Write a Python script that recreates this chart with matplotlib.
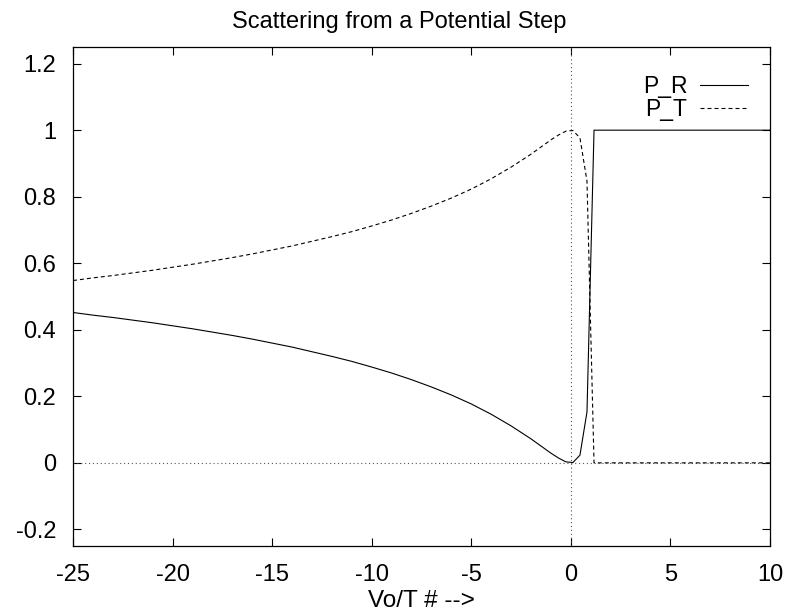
import numpy as np
import matplotlib
matplotlib.use('Agg')
import matplotlib.pyplot as plt

plt.rcParams['font.family'] = ['Liberation Sans', 'DejaVu Sans']

# values (x = Vo/T)
x_vals = [-25, -24, -23, -22, -21, -20, -19, -18, -17, -16, -15, -14, -13,
          -12, -11, -10, -9, -8, -7, -6, -5, -4, -3, -2, -1,
          -0.606, -0.253, 0.101, 0.455, 0.808, 1.162, 10]
p_r = [0.452, 0.444, 0.437, 0.429, 0.421, 0.412, 0.403, 0.393, 0.383, 0.372,
       0.360, 0.348, 0.334, 0.320, 0.305, 0.288, 0.270, 0.250, 0.228, 0.204,
       0.177, 0.146, 0.111, 0.072, 0.029,
       0.014, 0.003, 0.001, 0.023, 0.153, 1.0, 1.0]
p_t = [0.548, 0.556, 0.563, 0.571, 0.579, 0.588, 0.597, 0.607, 0.617, 0.628,
       0.640, 0.652, 0.666, 0.680, 0.695, 0.712, 0.730, 0.750, 0.772, 0.796,
       0.823, 0.854, 0.889, 0.928, 0.971,
       0.986, 0.997, 0.999, 0.977, 0.847, 0.0, 0.0]

x_ticks = [-25, -20, -15, -10, -5, 0, 5, 10]
y_ticks = [-0.2, 0, 0.2, 0.4, 0.6, 0.8, 1, 1.2]
y_labels = ['-0.2', '0', '0.2', '0.4', '0.6', '0.8', '1', '1.2']

fig = plt.figure(figsize=(7.91, 6.16), dpi=100)
ax = fig.add_axes([0.0923, 0.1136, 0.8812, 0.8101])

ax.axhline(0, color='#555555', lw=0.8, ls=(0, (1, 2.5)))
ax.axvline(0, color='#555555', lw=0.8, ls=(0, (1, 2.5)))

ax.plot(x_vals, p_r, color='black', lw=0.8, label='P_R')
ax.plot(x_vals, p_t, color='black', lw=0.8, ls=(0, (3.6, 2.7)), label='P_T')

ax.set_xlim(-25, 10)
ax.set_ylim(-0.25, 1.25)
ax.set_xticks(x_ticks)
ax.set_xticklabels([str(t) for t in x_ticks])
ax.set_yticks(y_ticks)
ax.set_yticklabels(y_labels)
ax.tick_params(direction='in', length=6, width=0.8, labelsize=17,
               top=True, right=True)
ax.tick_params(axis='x', pad=13)
ax.tick_params(axis='y', pad=12)
for sp in ax.spines.values():
    sp.set_linewidth(0.9)

# gnuplot centres the title on the whole canvas
fig.text(0.505, 0.955, 'Scattering from a Potential Step', fontsize=17,
         ha='center', va='baseline')
ax.set_xlabel('Vo/T # -->', fontsize=17.5, labelpad=3)

ax.legend(loc='upper right', bbox_to_anchor=(0.9456, 0.879),
          bbox_transform=fig.transFigure, frameon=False, markerfirst=False,
          fontsize=16.5, handlelength=2.1, handletextpad=0.55,
          labelspacing=0.0, borderpad=0, borderaxespad=0)

fig.savefig('out.png', dpi=100)
